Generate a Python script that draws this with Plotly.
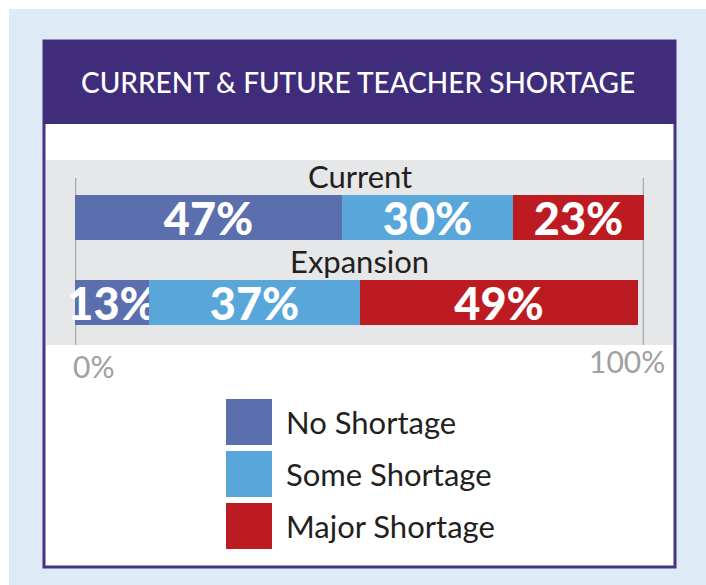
import plotly.graph_objects as go

# ---- data ----
categories = ["Current", "Expansion"]
series_names = ["No Shortage", "Some Shortage", "Major Shortage"]
no_shortage = [47, 13]
some_shortage = [30, 37]
major_shortage = [23, 49]
series_values = [no_shortage, some_shortage, major_shortage]
series_colors = ["#5B6FAF", "#59A6DB", "#BD1B22"]
axis_tick_labels = ["0%", "100%"]
title_text = "CURRENT & FUTURE TEACHER SHORTAGE"

W, H = 706, 585


def px(x):
    return x / W


def py(y):
    return 1 - y / H


FONT = "Lato"
fig = go.Figure()

for name, vals, col in zip(series_names, series_values, series_colors):
    fig.add_trace(go.Bar(
        y=categories, x=vals, name=name, orientation="h",
        marker=dict(color=col, line=dict(width=0)),
        width=0.53,
        text=[f"{v}%" for v in vals],
        textposition="inside", insidetextanchor="middle",
        constraintext="none", cliponaxis=False,
        textfont=dict(family=FONT, size=45, color="white", weight=900),
        showlegend=False, hoverinfo="skip",
    ))

shapes = []
# white strips at top/left edge
shapes.append(dict(type="rect", xref="paper", yref="paper", x0=0, x1=1, y0=py(9), y1=1,
                   fillcolor="white", line=dict(width=0), layer="below"))
shapes.append(dict(type="rect", xref="paper", yref="paper", x0=0, x1=px(9), y0=0, y1=1,
                   fillcolor="white", line=dict(width=0), layer="below"))
# card
shapes.append(dict(type="rect", xref="paper", yref="paper", x0=px(44), x1=px(675), y0=py(567), y1=py(41),
                   fillcolor="white", line=dict(color="#45338A", width=3), layer="below"))
# header
shapes.append(dict(type="rect", xref="paper", yref="paper", x0=px(43), x1=px(676), y0=py(124), y1=py(40),
                   fillcolor="#3F2C7B", line=dict(width=0), layer="below"))
# gray plot panel
shapes.append(dict(type="rect", xref="paper", yref="paper", x0=px(46), x1=px(673), y0=py(345), y1=py(160),
                   fillcolor="#E6E7E8", line=dict(width=0), layer="below"))
# gray vertical guide lines at 0 and 100
for xv in (0, 100):
    shapes.append(dict(type="line", xref="x", yref="paper", x0=xv, x1=xv, y0=py(345), y1=py(178),
                       line=dict(color="#A7A9AC", width=2.5), layer="below"))

annotations = []
annotations.append(dict(text=title_text, xref="paper", yref="paper", x=px(358), y=py(82),
                        xanchor="center", yanchor="middle", showarrow=False,
                        font=dict(family=FONT, size=28, color="white", weight=500)))
# category labels above each bar
for c in categories:
    annotations.append(dict(text=c, xref="x", yref="y", x=50, y=c, yshift=41,
                            xanchor="center", yanchor="middle", showarrow=False,
                            font=dict(family=FONT, size=31, color="#231F20")))
# axis end labels
annotations.append(dict(text=axis_tick_labels[0], xref="x", yref="paper", x=0, y=py(366), xshift=-4,
                        xanchor="left", yanchor="middle", showarrow=False,
                        font=dict(family=FONT, size=30, color="#A0A0A0")))
annotations.append(dict(text=axis_tick_labels[1], xref="x", yref="paper", x=100, y=py(361), xshift=23,
                        xanchor="right", yanchor="middle", showarrow=False,
                        font=dict(family=FONT, size=30, color="#A0A0A0")))

# manual legend with large squares
leg_top = [399, 451, 503]
for name, col, t in zip(series_names, series_colors, leg_top):
    shapes.append(dict(type="rect", xref="paper", yref="paper", x0=px(226), x1=px(272),
                       y0=py(t + 46), y1=py(t), fillcolor=col, line=dict(width=0)))
    annotations.append(dict(text=name, xref="paper", yref="paper", x=px(284), y=py(t + 23),
                            xanchor="left", yanchor="middle", showarrow=False,
                            font=dict(family=FONT, size=31, color="#231F20")))

fig.update_layout(
    barmode="stack",
    width=W, height=H, autosize=False,
    margin=dict(l=0, r=0, t=0, b=0),
    paper_bgcolor="#DEEBF7",
    plot_bgcolor="rgba(0,0,0,0)",
    xaxis=dict(range=[0, 100], domain=[px(75), px(644)], showgrid=False, zeroline=False,
               showticklabels=False, fixedrange=True),
    yaxis=dict(type="category", categoryorder="array", categoryarray=["Expansion", "Current"],
               range=[-0.5, 1.676], domain=[py(345), py(160)], showgrid=False, zeroline=False,
               showticklabels=False, fixedrange=True),
    bargap=0,
    shapes=shapes,
    annotations=annotations,
)

fig.write_html("out.html")
